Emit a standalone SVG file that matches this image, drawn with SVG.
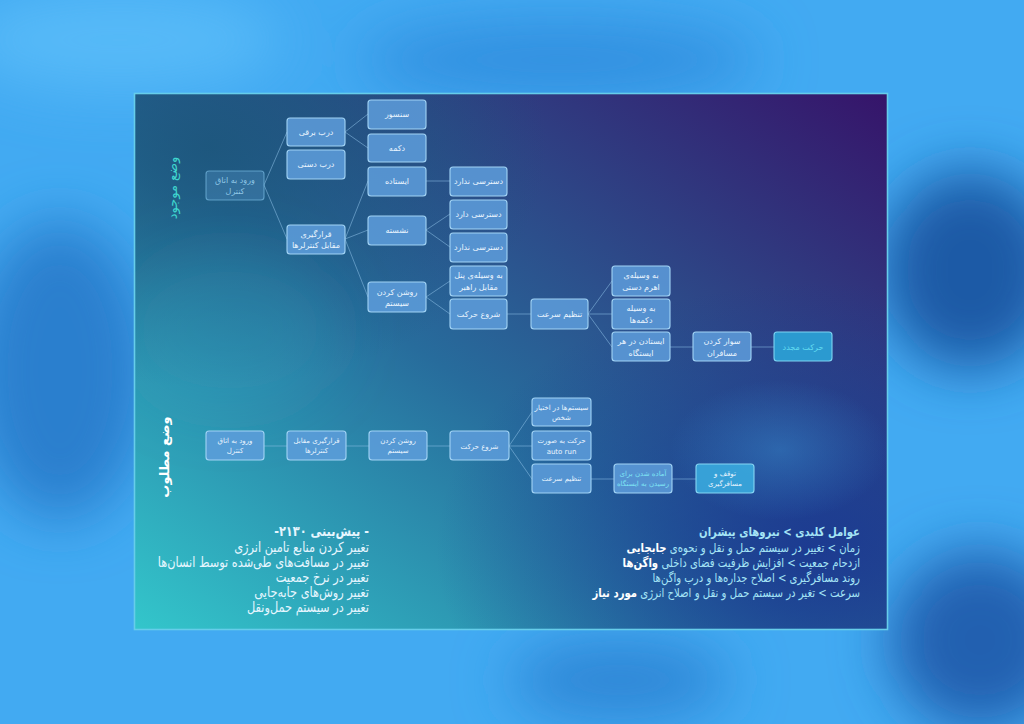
<svg xmlns="http://www.w3.org/2000/svg" width="1024" height="724" viewBox="0 0 1024 724">
<defs>
  <filter id="blur" x="-50%" y="-50%" width="200%" height="200%"><feGaussianBlur stdDeviation="28"/></filter>
  <filter id="soft" x="-50%" y="-50%" width="200%" height="200%"><feGaussianBlur stdDeviation="30"/></filter>
  <linearGradient id="panel" x1="0" y1="1" x2="1" y2="0">
    <stop offset="0" stop-color="#33c6cb"/>
    <stop offset="0.45" stop-color="#276c9c"/>
    <stop offset="1" stop-color="#36146a"/>
  </linearGradient>
  <radialGradient id="tl" cx="0.1" cy="0.1" r="0.45">
    <stop offset="0" stop-color="#1b5478" stop-opacity="0.8"/>
    <stop offset="1" stop-color="#1b5478" stop-opacity="0"/>
  </radialGradient>
  <radialGradient id="br" cx="0.9" cy="0.85" r="0.5">
    <stop offset="0" stop-color="#1a3490" stop-opacity="0.85"/>
    <stop offset="1" stop-color="#1a3490" stop-opacity="0"/>
  </radialGradient>
  <radialGradient id="glow" cx="0.5" cy="0.5" r="0.5">
    <stop offset="0" stop-color="#3a90d0" stop-opacity="0.45"/>
    <stop offset="1" stop-color="#3a90d0" stop-opacity="0"/>
  </radialGradient>
  <clipPath id="pclip"><rect x="134.5" y="93.5" width="753" height="536"/></clipPath>
  <style>
    .node rect { fill:#5e9edc; fill-opacity:0.85; stroke:#a2d4f6; stroke-width:1.1; }
    .node text { fill:#eaf5ff; font-family:"DejaVu Sans", "Noto Sans", sans-serif; font-size:8px; text-anchor:middle; }
    .sm text { font-size:7px; }
    .faded rect { fill:#4f8fc0; fill-opacity:0.4; stroke:#76b8e0; stroke-opacity:0.7; }
    .faded text { fill:#8fc6e6; }
    .cyan rect { fill:#2ba4d8; fill-opacity:0.9; stroke:#7ed4f2; }
    .cyan text { fill:#63def2; }
    .teal rect { fill:#3aaade; fill-opacity:0.9; stroke:#86d6f4; }
    .ctext text { fill:#7ee4f4; }
    #connectors line { stroke:#8cbfe6; stroke-opacity:0.55; stroke-width:1; }
    .label { font-family:"DejaVu Sans", "Noto Sans", sans-serif; font-size:13px; text-anchor:middle; }
    .blk { font-family:"DejaVu Sans", "Noto Sans", sans-serif; direction:rtl; text-anchor:start; }
  </style>
</defs>

<!-- outer background -->
<rect x="0" y="0" width="1024" height="724" fill="#42aaf2"/>
<g filter="url(#blur)">
  <ellipse cx="60" cy="370" rx="90" ry="150" fill="#2a7fce"/>
  <ellipse cx="970" cy="270" rx="90" ry="100" fill="#1a5aa6"/>
  <ellipse cx="980" cy="640" rx="90" ry="90" fill="#2060b0"/>
  <ellipse cx="560" cy="60" rx="200" ry="40" fill="#3290e0"/>
  <ellipse cx="620" cy="680" rx="110" ry="40" fill="#2e86d6"/>
  <ellipse cx="120" cy="40" rx="160" ry="50" fill="#56baf8"/>
</g>

<!-- panel -->
<g id="panel-bg">
  <rect x="134.5" y="93.5" width="753" height="536" fill="url(#panel)"/>
  <rect x="134.5" y="93.5" width="753" height="536" fill="url(#tl)"/>
  <rect x="134.5" y="93.5" width="753" height="536" fill="url(#br)"/>
  <g clip-path="url(#pclip)">
    <ellipse cx="780" cy="450" rx="110" ry="70" fill="url(#glow)"/>
    <ellipse cx="230" cy="330" rx="110" ry="80" fill="#2fa8c4" fill-opacity="0.25" filter="url(#soft)"/>
  </g>
  <rect x="134.5" y="93.5" width="753" height="536" fill="none" stroke="#66cdea" stroke-width="1.6"/>
</g>

<!-- side labels -->
<text class="label" transform="translate(177,188) rotate(-90)" fill="#3fd6cf" direction="rtl">وضع موجود</text>
<text class="label" transform="translate(169,457) rotate(-90)" fill="#ffffff" font-weight="bold" direction="rtl">وضع مطلوب</text>

<!-- connectors -->
<g id="connectors">
  <line x1="264" y1="185" x2="287" y2="132"/>
  <line x1="264" y1="185" x2="287" y2="239"/>
  <line x1="345" y1="132" x2="368" y2="114"/>
  <line x1="345" y1="132" x2="368" y2="148"/>
  <line x1="345" y1="239" x2="368" y2="181"/>
  <line x1="345" y1="239" x2="368" y2="230"/>
  <line x1="345" y1="239" x2="368" y2="297"/>
  <line x1="426" y1="181" x2="450" y2="181"/>
  <line x1="426" y1="230" x2="450" y2="214"/>
  <line x1="426" y1="230" x2="450" y2="247"/>
  <line x1="426" y1="297" x2="450" y2="281"/>
  <line x1="426" y1="297" x2="450" y2="314"/>
  <line x1="507" y1="314" x2="531" y2="314"/>
  <line x1="588" y1="314" x2="612" y2="281"/>
  <line x1="588" y1="314" x2="612" y2="314"/>
  <line x1="588" y1="314" x2="612" y2="347"/>
  <line x1="670" y1="347" x2="693" y2="347"/>
  <line x1="751" y1="347" x2="774" y2="347"/>
  <line x1="264" y1="446" x2="287" y2="446"/>
  <line x1="346" y1="446" x2="369" y2="446"/>
  <line x1="427" y1="446" x2="450" y2="446"/>
  <line x1="509" y1="446" x2="532" y2="412"/>
  <line x1="509" y1="446" x2="532" y2="446"/>
  <line x1="509" y1="446" x2="532" y2="479"/>
  <line x1="591" y1="479" x2="614" y2="479"/>
  <line x1="672" y1="479" x2="696" y2="479"/>
</g>

<!-- top tree nodes -->
<g id="n-entry" class="node faded"><rect x="206" y="171" width="58" height="29" rx="3"/><text x="235" y="183">ورود به اتاق</text><text x="235" y="194">کنترل</text></g>
<g id="n-edoor" class="node"><rect x="287" y="118" width="58" height="28" rx="3"/><text x="316" y="135">درب برقی</text></g>
<g id="n-mdoor" class="node"><rect x="287" y="150" width="58" height="29" rx="3"/><text x="316" y="167">درب دستی</text></g>
<g id="n-sensor" class="node"><rect x="368" y="100" width="58" height="29" rx="3"/><text x="397" y="117">سنسور</text></g>
<g id="n-button" class="node"><rect x="368" y="134" width="58" height="28" rx="3"/><text x="397" y="151">دکمه</text></g>
<g id="n-stand" class="node"><rect x="368" y="167" width="58" height="29" rx="3"/><text x="397" y="184">ایستاده</text></g>
<g id="n-place" class="node"><rect x="287" y="225" width="58" height="29" rx="3"/><text x="316" y="237">قرارگیری</text><text x="316" y="248">مقابل کنترلرها</text></g>
<g id="n-sit" class="node"><rect x="368" y="216" width="58" height="29" rx="3"/><text x="397" y="233">نشسته</text></g>
<g id="n-power" class="node"><rect x="368" y="282" width="58" height="30" rx="3"/><text x="397" y="295">روشن کردن</text><text x="397" y="306">سیستم</text></g>
<g id="n-noacc1" class="node"><rect x="450" y="167" width="57" height="29" rx="3"/><text x="478.5" y="184">دسترسی ندارد</text></g>
<g id="n-acc" class="node"><rect x="450" y="200" width="57" height="29" rx="3"/><text x="478.5" y="217">دسترسی دارد</text></g>
<g id="n-noacc2" class="node"><rect x="450" y="233" width="57" height="29" rx="3"/><text x="478.5" y="250">دسترسی ندارد</text></g>
<g id="n-panel" class="node"><rect x="450" y="266" width="57" height="30" rx="3"/><text x="478.5" y="278">به وسیله‌ی پنل</text><text x="478.5" y="290">مقابل راهبر</text></g>
<g id="n-start" class="node"><rect x="450" y="299" width="57" height="30" rx="3"/><text x="478.5" y="317">شروع حرکت</text></g>
<g id="n-speed" class="node"><rect x="531" y="299" width="57" height="30" rx="3"/><text x="559.5" y="317">تنظیم سرعت</text></g>
<g id="n-lever" class="node"><rect x="612" y="266" width="58" height="30" rx="3"/><text x="641" y="278">به وسیله‌ی</text><text x="641" y="290">اهرم دستی</text></g>
<g id="n-buttons" class="node"><rect x="612" y="299" width="58" height="30" rx="3"/><text x="641" y="311">به وسیله</text><text x="641" y="323">دکمه‌ها</text></g>
<g id="n-stop" class="node"><rect x="612" y="332" width="58" height="29" rx="3"/><text x="641" y="344">ایستادن در هر</text><text x="641" y="356">ایستگاه</text></g>
<g id="n-board" class="node"><rect x="693" y="332" width="58" height="29" rx="3"/><text x="722" y="344">سوار کردن</text><text x="722" y="356">مسافران</text></g>
<g id="n-again" class="node cyan"><rect x="774" y="332" width="58" height="29" rx="3"/><text x="803" y="350">حرکت مجدد</text></g>

<!-- bottom tree nodes -->
<g id="b-entry" class="node sm"><rect x="206" y="431" width="58" height="29" rx="3"/><text x="235" y="443">ورود به اتاق</text><text x="235" y="453">کنترل</text></g>
<g id="b-place" class="node sm"><rect x="287" y="431" width="59" height="29" rx="3"/><text x="316.5" y="443">قرارگیری مقابل</text><text x="316.5" y="453">کنترلرها</text></g>
<g id="b-power" class="node sm"><rect x="369" y="431" width="58" height="29" rx="3"/><text x="398" y="443">روشن کردن</text><text x="398" y="453">سیستم</text></g>
<g id="b-start" class="node sm"><rect x="450" y="431" width="59" height="29" rx="3"/><text x="479.5" y="449">شروع حرکت</text></g>
<g id="b-sys" class="node sm"><rect x="532" y="398" width="59" height="28" rx="3"/><text x="561.5" y="410">سیستم‌ها در اختیار</text><text x="561.5" y="420">شخص</text></g>
<g id="b-auto" class="node sm"><rect x="532" y="431" width="59" height="29" rx="3"/><text x="561.5" y="443">حرکت به صورت</text><text x="561.5" y="454" font-family="Liberation Sans, sans-serif" font-size="8">auto run</text></g>
<g id="b-speed" class="node sm"><rect x="532" y="464" width="59" height="29" rx="3"/><text x="561.5" y="481">تنظیم سرعت</text></g>
<g id="b-ready" class="node sm ctext"><rect x="614" y="464" width="58" height="29" rx="3"/><text x="643" y="476">آماده شدن برای</text><text x="643" y="486">رسیدن به ایستگاه</text></g>
<g id="b-halt" class="node sm teal"><rect x="696" y="464" width="58" height="29" rx="3"/><text x="725" y="476">توقف و</text><text x="725" y="486">مسافرگیری</text></g>

<!-- bottom-left text block -->
<g id="forecast" class="blk" fill="#e6f6ff" font-size="14" transform="translate(369,0) scale(0.81,1) translate(-369,0)">
  <text x="369" y="536" font-weight="bold">- پیش‌بینی ۲۱۳۰-</text>
  <text x="369" y="552">تغییر کردن منابع تامین انرژی</text>
  <text x="369" y="567">تغییر در مسافت‌های طی‌شده توسط انسان‌ها</text>
  <text x="369" y="582">تغییر در نرخ جمعیت</text>
  <text x="369" y="597">تغییر روش‌های جابه‌جایی</text>
  <text x="369" y="612">تغییر در سیستم حمل‌ونقل</text>
</g>

<!-- bottom-right text block -->
<g id="drivers" class="blk" fill="#a4e4f6" font-size="12.5" transform="translate(860,0) scale(0.81,1) translate(-860,0)">
  <text x="860" y="536" font-weight="bold">عوامل کلیدی &gt; نیروهای پیشران</text>
  <text x="860" y="552">زمان &gt; تغییر در سیستم حمل و نقل و نحوه‌ی <tspan font-weight="bold" fill="#ffffff">جابجایی</tspan></text>
  <text x="860" y="567">ازدحام جمعیت &gt; افزایش ظرفیت فضای داخلی <tspan font-weight="bold" fill="#ffffff">واگن‌ها</tspan></text>
  <text x="860" y="582">روند مسافرگیری &gt; اصلاح جداره‌ها و درب واگن‌ها</text>
  <text x="860" y="597">سرعت &gt; تغیر در سیستم حمل و نقل و اصلاح انرژی <tspan font-weight="bold" fill="#ffffff">مورد نیاز</tspan></text>
</g>
</svg>
